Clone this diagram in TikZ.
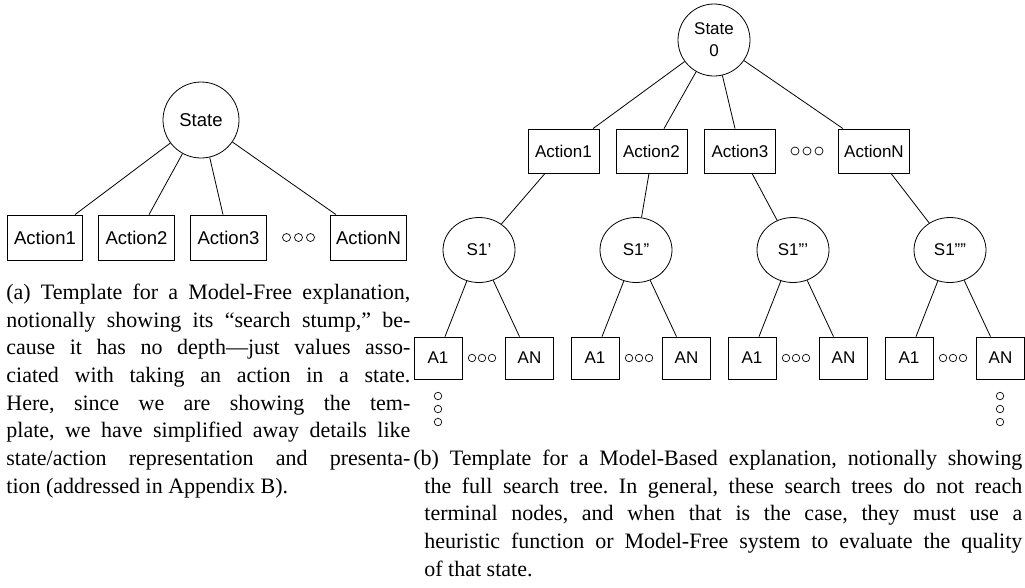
\documentclass[tikz,border=0pt]{standalone}
\usepackage{fontspec}
\setmainfont{Liberation Serif}
\setsansfont{Liberation Sans}
\usetikzlibrary{calc,shapes.geometric}
\frenchspacing
\begin{document}
\begin{tikzpicture}[x=1pt,y=-1pt,line width=0.8pt,
  lfont/.style={font=\sffamily\fontsize{18.5}{20}\selectfont},
  rfont/.style={font=\sffamily\fontsize{17}{22}\selectfont},
  lbox/.style={draw,rectangle,inner sep=0pt,lfont,minimum width=75.5pt,minimum height=45pt},
  rbox/.style={draw,rectangle,inner sep=0pt,rfont,minimum width=71pt,minimum height=44pt},
  sbox/.style={draw,rectangle,inner sep=0pt,rfont,minimum width=48pt,minimum height=42pt},
  snode/.style={draw,ellipse,inner sep=0pt,rfont,minimum width=72pt,minimum height=65pt},
  dotnode/.style={draw,circle,inner sep=0pt,minimum size=8pt,line width=0.7pt},
  sdot/.style={draw,circle,inner sep=0pt,minimum size=7.5pt,line width=0.7pt},
  captext/.style={anchor=base west,inner sep=0pt,font=\fontsize{22}{26}\selectfont\frenchspacing},
  conn/.style={draw,line width=0.8pt}]
\useasboundingbox (0,0) rectangle (1025,587);

% ---------- left tree ----------
\node[draw,circle,inner sep=0pt,minimum size=76pt,lfont] (st) at (201,120) {State};
\node[lbox] (la1) at (45,237.5) {Action1};
\node[lbox] (la2) at (136.5,237.5) {Action2};
\node[lbox] (la3) at (228.5,237.5) {Action3};
\node[lbox] (laN) at (368.5,237.5) {ActionN};
\node[dotnode] (ld1) at (286.5,237.5) {};
\node[dotnode] (ld2) at (298.5,237.5) {};
\node[dotnode] (ld3) at (310.5,237.5) {};
\draw[conn] (st) -- ($(la1.north)+(30,0)$);
\draw[conn] (st) -- ($(la2.north)+(12.5,0)$);
\draw[conn] (st) -- ($(la3.north)+(-5.5,0)$);
\draw[conn] (st) -- ($(laN.north)+(-32.5,0)$);

% ---------- right tree ----------
\node[draw,circle,inner sep=0pt,minimum size=72pt,align=center,rfont] (s0) at (714,40) {State\\0};
\node[rbox] (ra1) at (563.5,151) {Action1};
\node[rbox] (ra2) at (651.5,151) {Action2};
\node[rbox] (ra3) at (740,151) {Action3};
\node[rbox] (raN) at (874,151) {ActionN};
\node[dotnode] (rd1) at (795,151) {};
\node[dotnode] (rd2) at (807,151) {};
\node[dotnode] (rd3) at (819,151) {};
\draw[conn] (s0) -- ($(ra1.north)+(29.5,0)$);
\draw[conn] (s0) -- ($(ra2.north)+(12.5,0)$);
\draw[conn] (s0) -- ($(ra3.north)+(-5,0)$);
\draw[conn] (s0) -- ($(raN.north)+(-31,0)$);

\node[snode] (s1) at (479,250) {S1’};
\node[snode] (s2) at (636,250) {S1”};
\node[snode] (s3) at (793,250) {S1”’};
\node[snode] (s4) at (950,250) {S1””};
\draw[conn] ($(ra1.south)+(-18.5,0)$) -- (s1);
\draw[conn] ($(ra2.south)+(-2.5,0)$) -- (s2);
\draw[conn] ($(ra3.south)+(12,0)$) -- (s3);
\draw[conn] ($(raN.south)+(17,0)$) -- (s4);

\node[sbox] (g1a) at (438,358) {A1};
\node[sbox] (g1n) at (529.5,358) {AN};
\node[sbox] (g2a) at (595,358) {A1};
\node[sbox] (g2n) at (686.5,358) {AN};
\node[sbox] (g3a) at (752,358) {A1};
\node[sbox] (g3n) at (843.5,358) {AN};
\node[sbox] (g4a) at (909,358) {A1};
\node[sbox] (g4n) at (1000.5,358) {AN};

\foreach \g/\x in {1/438,2/595,3/752,4/909}{
  \node[sdot] (h\g a) at (\x+34,358) {};
  \node[sdot] (h\g b) at (\x+44,358) {};
  \node[sdot] (h\g c) at (\x+54,358) {};
}
\draw[conn] (s1) -- ($(g1a.north)+(7,0)$);
\draw[conn] (s1) -- ($(g1n.north)+(-10,0)$);
\draw[conn] (s2) -- ($(g2a.north)+(7,0)$);
\draw[conn] (s2) -- ($(g2n.north)+(-10,0)$);
\draw[conn] (s3) -- ($(g3a.north)+(7,0)$);
\draw[conn] (s3) -- ($(g3n.north)+(-10,0)$);
\draw[conn] (s4) -- ($(g4a.north)+(7,0)$);
\draw[conn] (s4) -- ($(g4n.north)+(-10,0)$);

\node[sdot] (v1a) at (438,396) {};
\node[sdot] (v1b) at (438,409) {};
\node[sdot] (v1c) at (438,422) {};
\node[sdot] (v4a) at (1000,396) {};
\node[sdot] (v4b) at (1000,409) {};
\node[sdot] (v4c) at (1000,422) {};

% ---------- captions ----------
\node[captext] (ca1) at (6,299.3) {\makebox[404pt][s]{(a) Template for a Model-Free explanation,}};
\node[captext] (ca2) at (6,327) {\makebox[404pt][s]{notionally showing its “search stump,” be-}};
\node[captext] (ca3) at (6,354.7) {\makebox[404pt][s]{cause it has no depth—just values asso-}};
\node[captext] (ca4) at (6,382.4) {\makebox[404pt][s]{ciated with taking an action in a state.}};
\node[captext] (ca5) at (6,410.1) {\makebox[404pt][s]{Here, since we are showing the tem-}};
\node[captext] (ca6) at (6,437.8) {\makebox[404pt][s]{plate, we have simplified away details like}};
\node[captext] (ca7) at (6,465.5) {\makebox[404pt][s]{state/action representation and presenta-}};
\node[captext] (ca8) at (6,493.2) {tion (addressed in Appendix B).};

\node[captext] (cb1) at (413,465.5) {\makebox[609pt][s]{(b) Template for a Model-Based explanation, notionally showing}};
\node[captext] (cb2) at (424,493.2) {\makebox[598pt][s]{the full search tree. In general, these search trees do not reach}};
\node[captext] (cb3) at (424,520.9) {\makebox[598pt][s]{terminal nodes, and when that is the case, they must use a}};
\node[captext] (cb4) at (424,548.6) {\makebox[598pt][s]{heuristic function or Model-Free system to evaluate the quality}};
\node[captext] (cb5) at (424,576.3) {of that state.};
\end{tikzpicture}
\end{document}
